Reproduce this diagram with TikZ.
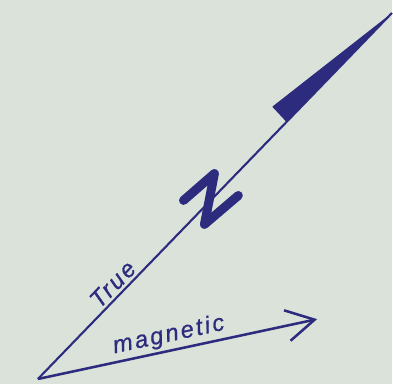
\documentclass[tikz,border=0pt]{standalone}
\usepackage{fontspec}
\setmainfont{Liberation Sans}
\usetikzlibrary{arrows.meta}
\definecolor{cink}{HTML}{2C2B7E}
\definecolor{cpaper}{HTML}{DBE2DA}
\tikzset{
  every picture/.style={line width=1.4pt, draw=cink},
  label/.style={text=cink, font=\fontsize{17}{19}\selectfont\itshape\addfontfeature{LetterSpace=10, FakeBold=0.8}, inner sep=2pt},
  north/.style={draw=cink, line width=1.5pt},
  magarrow/.style={draw=cink, line width=1.8pt, -{Straight Barb[length=7mm, width=7.8mm, line width=1.8pt]}},
  zmark/.style={draw=cink, line width=6.4pt, line cap=round, line join=round},
}

\begin{document}
\begin{tikzpicture}[x=0.025cm, y=-0.025cm]
  \fill[cpaper] (0,0) rectangle (393,385);
  \coordinate (o) at (38,380);
  \coordinate (t) at (393,13);
  \coordinate (m) at (318,320);
  % true north line with its flag
  \draw[north] (o) -- node[pos=0.236, sloped, above, label] (tn) {True} (t);
  \fill[cink] (273,107) -- (t) -- (287,122) -- cycle;
  \draw[zmark] (184,201) -- (215,174) -- (205,225) -- (239,196);
  % magnetic north
  \draw[magarrow] (o) -- node[pos=0.48, sloped, above, label] (mn) {magnetic} (m);
\end{tikzpicture}
\end{document}
